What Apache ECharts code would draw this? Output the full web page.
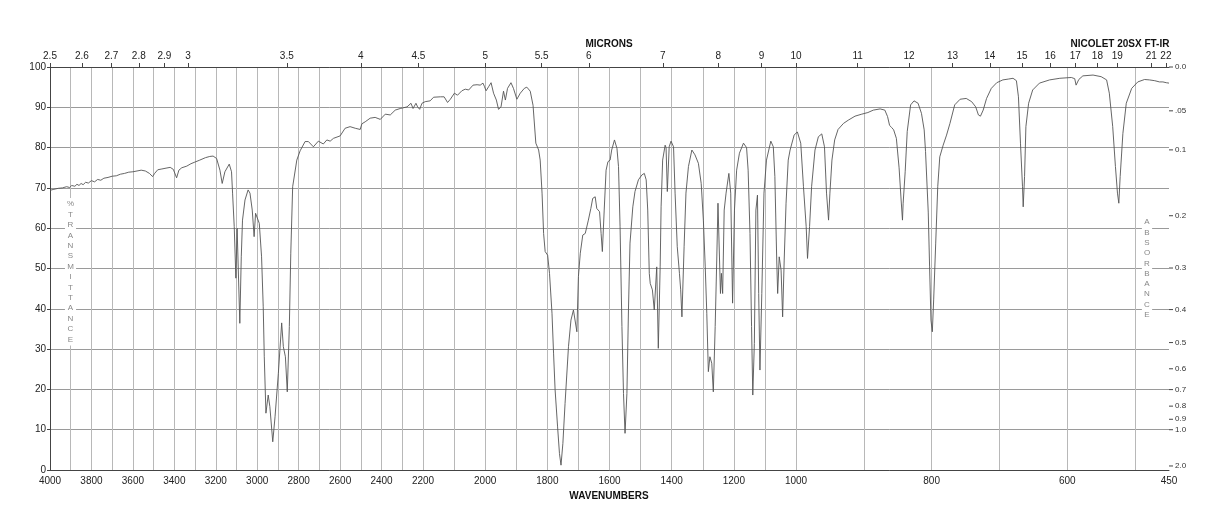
<!DOCTYPE html>
<html>
<head>
<meta charset="utf-8">
<script src="https://cdn.jsdelivr.net/npm/echarts@6/dist/echarts.min.js"></script>
<style>
html,body{margin:0;padding:0;background:#fff;}
#chart{width:1218px;height:528px;}
</style>
</head>
<body>
<div id="chart"></div>
<script>
// ---- data ----
const WAVENUMBERS = [
4000,3985,3960,3940,3920,3905,3895,3880,3870,3860,3850,3840,3828,3815,3800,3785,3770,3755,3740,3720,
3700,3680,3660,3640,3620,3600,3580,3560,3540,3520,3505,3495,3480,3460,3440,3420,3405,3389,3378,3364,
3340,3320,3301,3277,3250,3229,3213,3196,3180,3169,3156,3135,3124,3119,3111,3103,3097,3090,3084,3077,
3071,3059,3044,3035,3024,3015,3008,3000,2990,2979,2971,2966,2958,2947,2939,2925,2914,2898,2882,2874,
2864,2855,2845,2838,2829,2809,2793,2769,2753,2729,2705,2681,2664,2648,2632,2600,2576,2552,2527,2503,
2495,2479,2455,2431,2406,2382,2358,2334,2310,2277,2258,2248,2234,2226,2216,2205,2193,2177,2166,2144,
2132,2121,2112,2099,2089,2075,2064,2053,2039,2026,2016,2007,2002,1997,1989,1981,1973,1964,1957,1949,
1941,1935,1928,1917,1909,1898,1887,1874,1866,1855,1846,1837,1828,1823,1817,1812,1807,1799,1793,1785,
1780,1775,1767,1761,1756,1750,1743,1732,1724,1716,1710,1705,1700,1694,1686,1678,1673,1668,1660,1654,
1646,1641,1632,1627,1623,1617,1611,1605,1598,1593,1584,1576,1571,1566,1560,1555,1550,1544,1539,1534,
1525,1518,1507,1496,1488,1482,1477,1472,1469,1462,1456,1448,1443,1437,1434,1429,1421,1418,1414,1408,
1402,1394,1389,1382,1375,1371,1367,1360,1354,1346,1335,1325,1314,1305,1298,1292,1287,1282,1277,1271,
1266,1260,1255,1251,1247,1243,1240,1236,1231,1225,1216,1210,1204,1198,1191,1182,1169,1159,1154,1148,
1143,1139,1134,1129,1124,1120,1116,1110,1103,1095,1081,1073,1068,1062,1059,1054,1048,1043,1038,1032,
1025,1019,1006,998,993,989,985,983,980,977,972,967,962,958,955,952,950,947,943,938,
930,923,913,903,894,886,876,869,865,862,859,856,852,848,845,843,842,839,836,831,
826,820,815,811,809,805,803,801,799,797,794,791,788,783,778,773,766,758,749,741,
735,731,728,724,719,712,704,695,687,680,675,672,669,666,665,663,661,657,651,641,
626,611,594,589,587,583,577,562,550,542,538,533,529,526,524,522,518,513,505,496,
486,479,471,464,459,454,450
];
const TRANSMITTANCE = [
69.4,69.6,69.9,70.0,70.3,70.1,70.6,70.4,70.9,70.6,71.1,70.8,71.4,71.2,71.8,71.5,72.1,71.9,72.4,72.6,
72.9,73.0,73.4,73.6,73.9,74.0,74.2,74.4,74.2,73.6,72.8,73.6,74.5,74.7,74.9,75.1,74.6,72.5,74.4,75.0,
75.4,76.0,76.4,76.9,77.5,77.8,77.9,77.3,74.4,71.1,74.0,75.9,74.0,68.7,60.4,47.6,60.0,60.0,36.4,52.9,
62.0,67.0,69.5,68.7,64.5,57.9,63.7,64.1,61.2,52.9,40.5,28.1,14.1,18.6,15.7,7.0,13.2,24.0,36.5,30.6,
28.1,19.4,35.6,53.8,70.3,76.9,79.2,81.5,81.5,80.2,81.6,80.9,81.9,81.6,82.3,82.9,84.8,85.2,84.8,84.5,
85.9,86.4,87.3,87.5,87.0,88.3,88.1,89.3,89.7,90.1,91.0,89.7,91.0,90.1,89.5,91.0,91.4,91.6,92.5,92.6,
92.6,91.2,92.0,93.5,93.0,94.1,94.5,94.3,95.5,95.6,95.5,96.0,95.1,94.1,95.1,96.1,93.5,91.8,89.5,90.1,
94.0,91.8,94.7,96.1,94.7,92.0,93.5,94.7,95.0,94.0,90.5,81.1,79.4,76.9,68.7,58.7,54.2,53.3,48.8,38.9,
29.0,19.9,10.7,4.1,1.2,6.6,16.5,30.6,37.2,39.7,39.3,34.3,48.0,53.8,58.3,58.7,59.1,62.0,64.9,67.4,
67.8,64.9,64.1,58.7,54.2,64.5,74.4,76.5,76.9,79.4,81.9,79.8,75.3,60.4,35.6,19.0,9.1,19.0,39.7,56.3,
65.3,69.1,72.0,73.2,73.6,72.0,64.5,48.8,46.3,44.7,39.7,50.4,30.2,50.4,65.3,76.9,80.6,80.0,69.1,80.2,
81.6,80.2,68.7,55.4,48.8,44.7,38.0,55.4,68.7,75.3,79.4,78.2,76.1,71.1,62.0,50.4,38.9,24.4,28.1,26.5,
19.4,35.6,52.1,66.2,66.2,43.8,48.8,43.8,64.5,68.7,73.6,68.7,41.4,64.5,74.4,78.6,81.1,80.0,74.4,58.7,
35.6,18.6,31.4,64.5,68.2,43.8,24.8,43.8,68.7,76.9,81.6,80.2,72.8,52.1,43.8,52.9,49.6,38.0,52.1,66.2,
76.9,79.4,83.1,83.9,81.1,70.3,60.4,52.5,60.4,70.3,79.4,82.7,83.4,80.2,68.7,62.0,68.7,76.9,81.9,84.5,
86.0,86.8,87.8,88.3,88.7,89.3,89.6,89.3,87.7,85.5,85.0,84.4,82.3,75.0,67.0,62.0,66.2,74.0,84.0,90.6,
91.6,91.0,88.5,84.4,79.0,64.0,50.4,37.2,34.3,42.2,56.3,70.3,77.7,80.6,83.1,86.0,90.6,92.0,92.2,91.4,
90.1,88.1,87.8,89.3,92.2,94.7,96.1,96.8,97.0,97.2,96.6,92.6,81.1,70.3,65.3,72.8,85.2,91.0,94.3,96.0,
96.8,97.2,97.4,97.1,95.5,96.9,97.8,98.0,97.6,96.8,93.5,85.2,75.3,68.7,66.2,72.8,83.5,91.0,94.7,96.3,
96.9,96.8,96.6,96.3,96.3,96.1,96.0
];
const WAVENUMBER_GRID = [3900,3800,3700,3600,3500,3400,3300,3200,3100,3000,2900,2800,2700,2600,2500,2400,2300,2200,
  2100,2000,1900,1800,1700,1600,1500,1400,1300,1200,1100,1000,900,800,700,600,500];
const WAVENUMBER_LABELS = [4000,3800,3600,3400,3200,3000,2800,2600,2400,2200,2000,1800,1600,1400,1200,1000,800,600,450];
const MICRON_LABELS = [2.5,2.6,2.7,2.8,2.9,3,3.5,4,4.5,5,5.5,6,7,8,9,10,11,12,13,14,15,16,17,18,19,21,22];
const ABSORBANCE_TICKS = [0,0.05,0.1,0.2,0.3,0.4,0.5,0.6,0.7,0.8,0.9,1.0,2.0];
const ABSORBANCE_LABELS = ['0.0','.05','0.1','0.2','0.3','0.4','0.5','0.6','0.7','0.8','0.9','1.0','2.0'];

// piecewise-linear wavenumber scale of the chart paper (three equal-width segments)
function toU(w){ if(w>=2200) return (4000-w)/1800; if(w>=1000) return 1+(2200-w)/1200; return 2+(1000-w)/550; }
function fromU(u){ if(u<=1) return 4000-u*1800; if(u<=2) return 2200-(u-1)*1200; return 1000-(u-2)*550; }

const seriesData = WAVENUMBERS.map((w,i)=>[toU(w), TRANSMITTANCE[i]]);
const absT = ABSORBANCE_TICKS.map(a => 100*Math.pow(10,-a));

const FONT = '"Liberation Sans", Arial, sans-serif';
const chart = echarts.init(document.getElementById('chart'), null, {renderer:'canvas'});
chart.setOption({
  animation:false,
  backgroundColor:'#fff',
  grid:{left:50,right:49,top:67,bottom:58,containLabel:false},
  xAxis:[{
    type:'value', min:0, max:3, position:'bottom',
    axisLine:{show:true,onZero:false,lineStyle:{color:'#444',width:1}},
    axisTick:{show:false, customValues: WAVENUMBER_GRID.map(toU)},
    splitLine:{show:true,lineStyle:{color:'#b8b8b8',width:1}},
    axisLabel:{customValues: WAVENUMBER_LABELS.map(toU), color:'#222', fontSize:10, fontFamily:FONT, margin:6,
      formatter: v => String(Math.round(fromU(v)/10)*10)}
  },{
    type:'value', min:0, max:3, position:'top',
    axisLine:{show:true,onZero:false,lineStyle:{color:'#444',width:1}},
    axisTick:{show:true, inside:false, length:4, customValues: MICRON_LABELS.map(m=>toU(10000/m)), lineStyle:{color:'#444'}},
    splitLine:{show:false},
    axisLabel:{customValues: MICRON_LABELS.map(m=>toU(10000/m)), color:'#222', fontSize:10, fontFamily:FONT, margin:6,
      formatter: v => { const m = Math.round(10000/fromU(v)*10)/10; return String(m); }}
  }],
  yAxis:[{
    type:'value', min:0, max:100, interval:10, position:'left',
    axisLine:{show:true,lineStyle:{color:'#444',width:1}},
    axisTick:{show:true,length:3,lineStyle:{color:'#444'}},
    splitLine:{show:true,lineStyle:{color:'#9a9a9a',width:1}},
    axisLabel:{color:'#222',fontSize:10,fontFamily:FONT,margin:4}
  },{
    type:'value', min:0, max:100, position:'right',
    axisLine:{show:true,lineStyle:{color:'#444',width:1}},
    axisTick:{show:false},
    splitLine:{show:false},
    axisLabel:{customValues:absT,margin:0,
      rich:{
        t:{width:4,height:1,lineHeight:1,backgroundColor:'#444',verticalAlign:'middle'},
        v:{color:'#333',fontSize:8,fontFamily:FONT,padding:[0,0,0,2],verticalAlign:'middle'}
      },
      formatter: v => { const a = -Math.log10(v/100); let best=0; ABSORBANCE_TICKS.forEach((t,i)=>{ if(Math.abs(t-a)<Math.abs(ABSORBANCE_TICKS[best]-a)) best=i; }); return '{t|}{v|'+ABSORBANCE_LABELS[best]+'}'; }}
  }],
  series:[{
    type:'line', xAxisIndex:0, yAxisIndex:0, data:seriesData,
    showSymbol:false, symbol:'none', smooth:false,
    lineStyle:{color:'#555',width:0.9}, z:3
  }],
  graphic:[
    {type:'text', x:609, y:44, style:{text:'MICRONS', font:'bold 10px '+FONT, fill:'#111', align:'center', verticalAlign:'middle'}},
    {type:'text', x:1120, y:44, style:{text:'NICOLET 20SX FT-IR', font:'bold 10px '+FONT, fill:'#111', align:'center', verticalAlign:'middle'}},
    {type:'text', x:609, y:496, style:{text:'WAVENUMBERS', font:'bold 10px '+FONT, fill:'#111', align:'center', verticalAlign:'middle'}},
    {type:'text', x:70.5, y:198, z:10, style:{text:'%\nT\nR\nA\nN\nS\nM\nI\nT\nT\nA\nN\nC\nE', font:'8px '+FONT, lineHeight:10.4, fill:'#888', align:'center', verticalAlign:'top', backgroundColor:'#fff', padding:[1,2]}},
    {type:'text', x:1147, y:216, z:10, style:{text:'A\nB\nS\nO\nR\nB\nA\nN\nC\nE', font:'8px '+FONT, lineHeight:10.3, fill:'#888', align:'center', verticalAlign:'top', backgroundColor:'#fff', padding:[1,2]}}
  ]
});
</script>
</body>
</html>
